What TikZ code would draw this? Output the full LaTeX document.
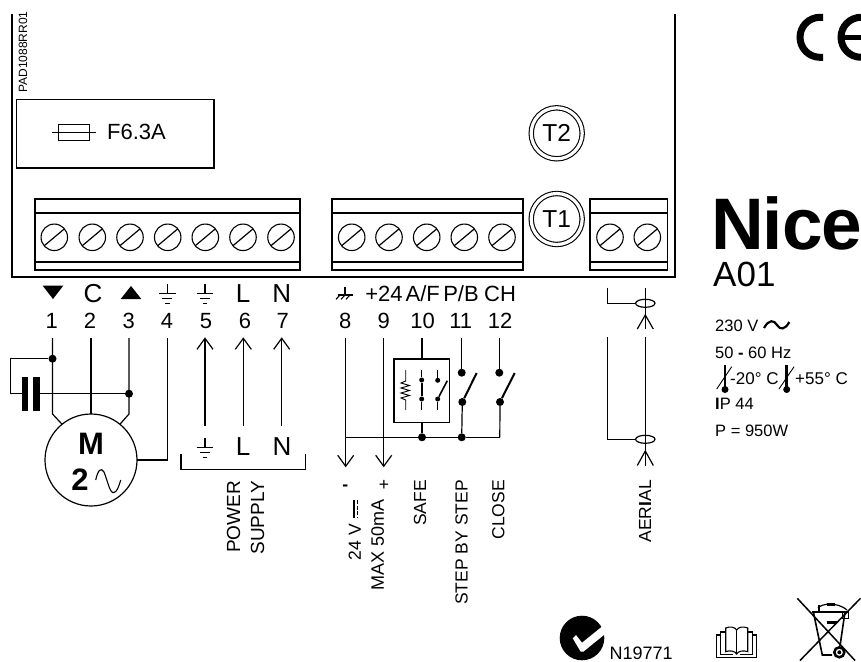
\documentclass[tikz,border=0pt]{standalone}
\usepackage{fontspec}
\setmainfont{Liberation Sans}
\newfontfamily\nicefont[LetterSpace=-1.4]{Liberation Sans}
\usetikzlibrary{arrows.meta,shapes.geometric}
\newlength{\du}
\setlength{\du}{1pt}
\tikzset{
  wire/.style={line width=1.2pt},
  feed/.style={line width=1.2pt,-{Straight Barb[length=11pt,width=16pt]}},
  boxline/.style={draw,line width=1.3pt,inner sep=0pt,outer sep=0pt},
  screw/.style={draw,circle,line width=1.1pt,minimum size=26.5pt,inner sep=0pt,outer sep=0pt},
  junction/.style={circle,fill=black,inner sep=0pt,minimum size=8pt},
  smalldot/.style={circle,fill=black,inner sep=0pt,minimum size=5pt},
  trimmer/.style={draw,circle,double,double distance=3.2pt,line width=1.1pt,minimum size=51pt,inner sep=0pt,outer sep=0pt,font=\fontsize{24.5}{26}\selectfont},
  ring/.style={draw,ellipse,line width=1.2pt,minimum width=19.4pt,minimum height=8pt,inner sep=0pt,outer sep=0pt},
  numlabel/.style={inner sep=0pt,font=\fontsize{22}{24}\selectfont},
  biglabel/.style={inner sep=0pt,font=\fontsize{26}{28}\selectfont},
  sidelabel/.style={inner sep=0pt,rotate=90,anchor=east,font=\fontsize{17.5}{19}\selectfont},
  datalabel/.style={inner sep=0pt,anchor=west,font=\fontsize{16.5}{18}\selectfont}
}
\begin{document}
\begin{tikzpicture}
\pgftransformyscale{-1.000000}
\useasboundingbox (0\du,0\du) rectangle (861\du,661\du);
% board outline
\draw[wire,line width=1.3pt] (12\du,14\du)--(12\du,277\du)--(675\du,277\du)--(675\du,14\du);
\node[rotate=90,inner sep=0pt,font=\fontsize{12}{13}\selectfont] (padcode) at (23\du,52\du){PAD1088RR01};
% fuse
\node[boxline,line width=1.5pt,minimum width=197.5pt,minimum height=68.5pt] (fusebox) at (115.4\du,133.5\du){};
\node[boxline,line width=0.9pt,minimum width=31pt,minimum height=16pt] (fuse) at (73.5\du,132\du){};
\coordinate (fusel) at (52\du,132\du);
\coordinate (fuser) at (96\du,132\du);
\draw[line width=0.9pt] (fusel)--(fuser);
\node[inner sep=0pt,anchor=west,font=\fontsize{22}{24}\selectfont] (fusetext) at (107\du,132\du){F6.3A};
% trimmers
\node[trimmer] (t2) at (556.7\du,133.3\du){T2};
\node[trimmer] (t1) at (556.7\du,219\du){T1};
% terminal block 1
\node[boxline,minimum width=265pt,minimum height=71pt] (block1) at (167.5\du,234.5\du){};
\draw[wire] (35\du,213\du)--(300\du,213\du);
\draw[wire] (35\du,262\du)--(300\du,262\du);
\node[screw] (s1) at (54.3\du,237.3\du){};
\draw[wire] (s1.220)--(s1.40);
\node[screw] (s2) at (92.3\du,237.3\du){};
\draw[wire] (s2.220)--(s2.40);
\node[screw] (s3) at (130\du,237.3\du){};
\draw[wire] (s3.220)--(s3.40);
\node[screw] (s4) at (167.7\du,237.3\du){};
\draw[wire] (s4.220)--(s4.40);
\node[screw] (s5) at (205.3\du,237.3\du){};
\draw[wire] (s5.220)--(s5.40);
\node[screw] (s6) at (243\du,237.3\du){};
\draw[wire] (s6.220)--(s6.40);
\node[screw] (s7) at (281\du,237.3\du){};
\draw[wire] (s7.220)--(s7.40);
% terminal block 2
\node[boxline,minimum width=191pt,minimum height=71pt] (block2) at (427.5\du,234.5\du){};
\draw[wire] (332\du,213\du)--(523\du,213\du);
\draw[wire] (332\du,262\du)--(523\du,262\du);
\node[screw] (s8) at (351.7\du,237.3\du){};
\draw[wire] (s8.220)--(s8.40);
\node[screw] (s9) at (389\du,237.3\du){};
\draw[wire] (s9.220)--(s9.40);
\node[screw] (s10) at (426.7\du,237.3\du){};
\draw[wire] (s10.220)--(s10.40);
\node[screw] (s11) at (464.3\du,237.3\du){};
\draw[wire] (s11.220)--(s11.40);
\node[screw] (s12) at (502\du,237.3\du){};
\draw[wire] (s12.220)--(s12.40);
% terminal block 3
\node[boxline,minimum width=77.7pt,minimum height=71pt] (block3) at (628.9\du,234.5\du){};
\draw[wire] (590\du,213\du)--(667.7\du,213\du);
\draw[wire] (590\du,262\du)--(667.7\du,262\du);
\node[screw] (s13) at (610\du,237.3\du){};
\draw[wire] (s13.220)--(s13.40);
\node[screw] (s14) at (647.3\du,237.3\du){};
\draw[wire] (s14.220)--(s14.40);
% row of terminal names
\fill (42.7\du,285.7\du)--(63.3\du,285.7\du)--(53\du,299\du)--cycle;
\node[biglabel] (nameC) at (93\du,293.5\du){C};
\fill (120.7\du,299\du)--(141.3\du,299\du)--(131\du,286\du)--cycle;
\draw[wire] (167.3\du,284\du)--(167.3\du,293.3\du);
\draw[wire] (159\du,293.3\du)--(175.6\du,293.3\du);
\draw[wire] (162.3\du,298.3\du)--(172.3\du,298.3\du);
\draw[wire] (165\du,303.3\du)--(169.6\du,303.3\du);
\draw[wire] (205\du,284\du)--(205\du,293.3\du);
\draw[wire] (196.7\du,293.3\du)--(213.3\du,293.3\du);
\draw[wire] (200\du,298.3\du)--(210\du,298.3\du);
\draw[wire] (202.7\du,303.3\du)--(207.3\du,303.3\du);
\node[biglabel] (nameL) at (243\du,293.5\du){L};
\node[biglabel] (nameN) at (281.7\du,293.5\du){N};
\draw[line width=1.1pt] (345\du,286.7\du)--(345\du,295\du);
\draw[line width=1.1pt] (338\du,295\du)--(353\du,295\du);
\draw[line width=1.1pt] (336\du,299.3\du)--(340\du,295\du);
\draw[line width=1.1pt] (341\du,299.3\du)--(345\du,295\du);
\draw[line width=1.1pt] (346\du,299.3\du)--(350\du,295\du);
\node[numlabel] (name9) at (384\du,294\du){+24};
\node[numlabel] (name10) at (422.7\du,294\du){A/F};
\node[numlabel] (name11) at (461\du,294\du){P/B};
\node[numlabel] (name12) at (500\du,294\du){CH};
% terminal numbers
\node[numlabel] (num1) at (51.7\du,321\du){1};
\node[numlabel] (num2) at (90\du,321\du){2};
\node[numlabel] (num3) at (128.7\du,321\du){3};
\node[numlabel] (num4) at (167\du,321\du){4};
\node[numlabel] (num5) at (206\du,321\du){5};
\node[numlabel] (num6) at (245\du,321\du){6};
\node[numlabel] (num7) at (282.7\du,321\du){7};
\node[numlabel] (num8) at (345.3\du,321\du){8};
\node[numlabel] (num9) at (383.7\du,321\du){9};
\node[numlabel] (num10) at (422.7\du,321\du){10};
\node[numlabel] (num11) at (460.7\du,321\du){11};
\node[numlabel] (num12) at (500\du,321\du){12};
% motor
\node[draw,circle,line width=1.2pt,minimum size=92pt,inner sep=0pt,outer sep=0pt] (motor) at (91\du,460\du){};
\node[inner sep=0pt,font=\fontsize{31}{33}\selectfont\bfseries] (motorM) at (91\du,444\du){M};
\node[inner sep=0pt,font=\fontsize{31}{33}\selectfont\bfseries] (motor2) at (80\du,480\du){2};
\draw[line width=1.1pt] (95.7\du,480\du) .. controls (98\du,470\du) and (101\du,467\du) .. (104\du,472\du) .. controls (108\du,482\du) and (110\du,494\du) .. (114\du,492.5\du) .. controls (117\du,492\du) and (119\du,486\du) .. (120.7\du,480\du);
\coordinate (w1top) at (52.5\du,338\du);
\coordinate (w1low) at (52.5\du,414\du);
\coordinate (w2top) at (91\du,338\du);
\coordinate (w3top) at (129\du,338\du);
\coordinate (w3low) at (129\du,414\du);
\coordinate (w4top) at (167.3\du,338\du);
\draw[wire] (w1top)--(w1low)--(motor.129);
\draw[wire] (w2top)--(motor.north);
\draw[wire] (w3top)--(w3low)--(motor.51);
\draw[wire] (w4top)|-(motor.east);
% capacitor
\node[junction] (cap1) at (52.5\du,358.7\du){};
\node[junction] (cap2) at (129\du,393.7\du){};
\node[fill=black,inner sep=0pt,minimum width=6.6pt,minimum height=34.3pt] (plate1) at (25\du,393.7\du){};
\node[fill=black,inner sep=0pt,minimum width=6.6pt,minimum height=34.3pt] (plate2) at (36.6\du,393.7\du){};
\coordinate (capa) at (10.7\du,358.7\du);
\coordinate (capb) at (10.7\du,393.7\du);
\draw[wire] (cap1)--(capa)--(capb)--(plate1);
\draw[wire] (plate2)--(cap2);
% power supply arrows
\coordinate (a5) at (205\du,426\du);
\coordinate (a6) at (243.3\du,426\du);
\coordinate (a7) at (281.7\du,426\du);
\coordinate (a5top) at (205\du,337.3\du);
\coordinate (a6top) at (243.3\du,337.3\du);
\coordinate (a7top) at (281.7\du,337.3\du);
\draw[feed] (a5)--(a5top);
\draw[feed] (a6)--(a6top);
\draw[feed] (a7)--(a7top);
\draw[wire] (205\du,438.3\du)--(205\du,447.3\du);
\draw[wire] (196.7\du,447.3\du)--(213.3\du,447.3\du);
\draw[wire] (200\du,452.3\du)--(210\du,452.3\du);
\draw[wire] (202.7\du,457.3\du)--(207.3\du,457.3\du);
\node[biglabel] (supL) at (243\du,447\du){L};
\node[biglabel] (supN) at (282\du,447\du){N};
\draw[wire] (181\du,454.3\du)--(181\du,469.3\du)--(305.7\du,469.3\du)--(305.7\du,454.3\du);
\node[sidelabel,font=\fontsize{19}{20}\selectfont] (power) at (233.5\du,480.7\du){POWER};
\node[sidelabel,font=\fontsize{19}{20}\selectfont] (supply) at (257.5\du,480.7\du){SUPPLY};
% low voltage wires
\coordinate (w8top) at (345.7\du,338\du);
\coordinate (w9top) at (383.7\du,338\du);
\coordinate (w10top) at (422\du,338\du);
\coordinate (w11top) at (461.7\du,338\du);
\coordinate (w12top) at (499.3\du,338\du);
\coordinate (w8tip) at (345.7\du,467.3\du);
\coordinate (w9tip) at (383.7\du,467.3\du);
\coordinate (buscorner) at (499.8\du,437.3\du);
\coordinate (busleft) at (345.7\du,437.3\du);
\draw[feed] (w8top)--(w8tip);
\draw[feed] (w9top)--(w9tip);
\node[boxline,line width=1.2pt,minimum width=55.3pt,minimum height=63.3pt] (safebox) at (421.7\du,390.7\du){};
\node[junction] (busa) at (422\du,437.3\du){};
\node[junction] (busb) at (461.7\du,437.3\du){};
\draw[wire] (w10top)--(safebox.north-|w10top);
\draw[wire] (safebox.south-|busa)--(busa);
\draw[wire] (busleft)--(busa)--(busb)--(buscorner);
% switches
\node[junction] (sw11a) at (461.7\du,372.7\du){};
\node[junction] (sw11b) at (462.3\du,402\du){};
\node[junction] (sw12a) at (499.3\du,372.7\du){};
\node[junction] (sw12b) at (500\du,402\du){};
\coordinate (blade11) at (476.7\du,373\du);
\coordinate (blade12) at (514.7\du,373\du);
\draw[wire] (w11top)--(sw11a);
\draw[wire] (w12top)--(sw12a);
\draw[wire] (sw11b)--(busb);
\draw[wire] (sw12b)--(buscorner);
\draw[line width=2pt] (sw11b)--(blade11);
\draw[line width=2pt] (sw12b)--(blade12);
% inside the safety box
\draw[line width=0.9pt] (405.7\du,370\du)--(405.7\du,381\du)--(401\du,383\du)--(409.5\du,385.5\du)--(401\du,388\du)--(409.5\du,390.5\du)--(401\du,393\du)--(409.5\du,395.5\du)--(401\du,398\du)--(405.7\du,400\du)--(405.7\du,410\du);
\node[smalldot] (sf2a) at (421.7\du,380\du){};
\node[smalldot] (sf2b) at (421.7\du,399\du){};
\coordinate (sf2top) at (421.7\du,370\du);
\coordinate (sf2low) at (421.7\du,410\du);
\draw[line width=0.9pt] (sf2top)--(sf2a);
\draw[line width=1.6pt] (sf2a)--(sf2b);
\draw[line width=0.9pt] (sf2b)--(sf2low);
\node[smalldot] (sf3a) at (437.7\du,380.3\du){};
\node[smalldot] (sf3b) at (437.7\du,399\du){};
\coordinate (sf3top) at (437.7\du,370\du);
\coordinate (sf3low) at (437.7\du,410\du);
\coordinate (sf3blade) at (447.3\du,380.7\du);
\draw[line width=0.9pt] (sf3top)--(sf3a);
\draw[line width=0.9pt] (sf3b)--(sf3low);
\draw[line width=1.6pt] (sf3b)--(sf3blade);
% vertical names
\node[inner sep=0pt,font=\fontsize{17.5}{19}\selectfont\bfseries] (minus) at (345.3\du,488\du){-};
\node[inner sep=0pt,font=\fontsize{17.5}{19}\selectfont] (plus) at (384\du,485\du){+};
\draw[line width=1.6pt] (353.8\du,500\du)--(353.8\du,518\du);
\draw[line width=1.6pt,dash pattern=on 4pt off 1.6pt] (357.5\du,500\du)--(357.5\du,518\du);
\node[sidelabel] (volts) at (354.7\du,524\du){24 V};
\node[sidelabel,font=\fontsize{18}{19}\selectfont] (maxamp) at (377.7\du,499.3\du){MAX 50mA};
\node[sidelabel] (safe) at (420\du,480\du){SAFE};
\node[sidelabel] (stepby) at (461.7\du,480\du){STEP BY STEP};
\node[sidelabel] (closetxt) at (498.3\du,480\du){CLOSE};
% aerial
\node[ring] (ring1) at (645.3\du,303.3\du){};
\node[ring] (ring2) at (645.3\du,439.3\du){};
\coordinate (ae1) at (607.3\du,287.7\du);
\coordinate (ae2) at (607.3\du,337.3\du);
\coordinate (ae3) at (645.3\du,287.7\du);
\coordinate (ae4) at (645.3\du,329\du);
\coordinate (ae5) at (645.3\du,337.3\du);
\coordinate (ae6) at (645.3\du,465.5\du);
\coordinate (ae1w) at (645.3\du,315\du);
\coordinate (ae2w) at (645.3\du,451\du);
\draw[wire] (ae1)|-(ring1.west);
\draw[wire] (ae2)|-(ring2.west);
\draw[wire] (ae3)--(ae4);
\draw[wire] (ae5)--(ae6);
\draw[wire] (637.3\du,329\du)--(ae1w)--(653.3\du,329\du);
\draw[wire] (637.3\du,465.5\du)--(ae2w)--(653.3\du,465.5\du);
\node[sidelabel] (aerial) at (645\du,480\du){AER{\bfseries I}AL};
% right column
\draw[line width=7pt] (823\du,17.3\du)--(820\du,17.3\du) arc[start angle=270,end angle=90,radius=20\du]--(823\du,57.3\du);
\draw[line width=7pt] (861\du,17.3\du) arc[start angle=270,end angle=90,radius=20\du];
\draw[line width=5pt] (842\du,37.3\du)--(861\du,37.3\du);
\node[inner sep=0pt,anchor=base west,font=\nicefont\bfseries\fontsize{73}{75}\selectfont] (nice) at (711\du,249\du){Nice};
\node[inner sep=0pt,anchor=base west,font=\fontsize{35}{37}\selectfont] (model) at (713\du,286\du){A01};
\node[datalabel] (volt) at (715\du,325.7\du){230 V};
\draw[line width=2.2pt] (764\du,328\du) .. controls (769\du,319\du) and (774\du,320\du) .. (777\du,325\du) .. controls (780\du,330\du) and (785\du,330\du) .. (789.3\du,322\du);
\node[datalabel] (freq) at (715\du,352.7\du){50 {\bfseries -} 60 Hz};
\draw[line width=2.5pt] (725\du,365\du)--(725\du,389\du);
\node[circle,fill=black,inner sep=0pt,minimum size=7pt] (therm1) at (725\du,389.5\du){};
\draw[line width=0.9pt] (716.7\du,389\du)--(731.7\du,366.7\du);
\node[datalabel,font=\fontsize{17}{18}\selectfont] (tempa) at (730\du,379\du){-20° C};
\draw[line width=2.5pt] (786.7\du,365\du)--(786.7\du,389\du);
\node[circle,fill=black,inner sep=0pt,minimum size=7pt] (therm2) at (786.7\du,389.5\du){};
\draw[line width=0.9pt] (779\du,389\du)--(794\du,366.7\du);
\node[datalabel,font=\fontsize{17}{18}\selectfont] (tempb) at (795\du,379\du){+55° C};
\node[datalabel] (ip) at (715\du,404\du){{\bfseries I}P 44};
\node[datalabel] (power950) at (715\du,430.7\du){P = 950W};
% approval mark
\fill (582\du,638\du) circle (22.3\du);
\fill[white] (572.7\du,638.3\du)--(576\du,635\du)--(582\du,642.7\du)--(604\du,625\du)--(608.3\du,630\du)--(606\du,633.3\du)--(583.3\du,651.7\du)--(580.7\du,651.7\du)--cycle;
\node[inner sep=0pt,anchor=base west,font=\fontsize{18}{19}\selectfont] (approval) at (609.3\du,659\du){N19771};
% book
\draw[line width=1.1pt] (725.7\du,651.7\du)--(725.7\du,628\du)..controls (730\du,626\du) and (735\du,627\du)..(736.7\du,630\du)..controls (738.5\du,627\du) and (743\du,626\du)..(747.7\du,628\du)--(747.7\du,651.7\du)..controls (743\du,650\du) and (738.5\du,651\du)..(736.7\du,654\du)..controls (735\du,651\du) and (730\du,650\du)..(725.7\du,651.7\du)--cycle;
\draw[line width=1.1pt] (736.7\du,630\du)--(736.7\du,654\du);
\draw[line width=1.1pt] (725.7\du,632\du)--(720.7\du,632\du)--(720.7\du,654.5\du)--(733\du,654.5\du);
\draw[line width=1.1pt] (747.7\du,632\du)--(752.7\du,632\du)--(752.7\du,654.5\du)--(740\du,654.5\du);
\draw[line width=1.1pt] (720.7\du,635\du)--(716.7\du,635\du)--(716.7\du,657.3\du)--(756.3\du,657.3\du)--(756.3\du,635\du)--(752.7\du,635\du);
% bin
\draw[line width=1.5pt] (797.3\du,598.3\du)--(855\du,660.5\du);
\draw[line width=1.5pt] (860.5\du,598.3\du)--(800\du,660.5\du);
\draw[line width=1.6pt] (812.3\du,611.7\du)--(848.3\du,611.7\du);
\draw[line width=1.6pt] (813.3\du,611.7\du)--(822.3\du,655\du)--(832\du,655\du);
\draw[line width=1.6pt] (845\du,611.7\du)--(840\du,646\du);
\draw[line width=1.2pt] (818\du,608\du)..controls (822\du,603\du) and (838\du,602\du)..(847\du,610\du);
\draw[line width=3pt] (826.7\du,604.3\du)--(835\du,604.3\du);
\draw[line width=2pt] (818.5\du,605\du)--(818.5\du,611.7\du);
\draw[line width=1\du] (842.7\du,611.7\du) rectangle (848.3\du,618.3\du);
\draw[line width=3pt] (826.7\du,622.3\du)--(837\du,622.3\du);
\draw[line width=2.5pt] (839.3\du,652.3\du) circle (5\du);
\fill (839.3\du,652.3\du) circle (2\du);
\end{tikzpicture}
\end{document}
